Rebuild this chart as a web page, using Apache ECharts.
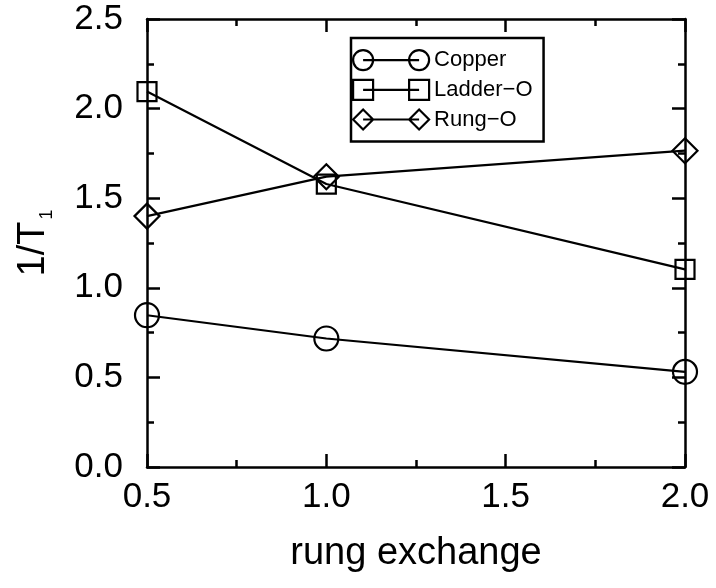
<!DOCTYPE html>
<html>
<head>
<meta charset="utf-8">
<script src="https://cdn.jsdelivr.net/npm/echarts@6/dist/echarts.min.js"></script>
<style>
html,body{margin:0;padding:0;background:#fff;}
#chart{width:716px;height:588px;}
</style>
</head>
<body>
<div id="chart"></div>
<script>
// ---- data ----
const rungExchange = [0.5, 1.0, 2.0];
const copper  = [0.847, 0.717, 0.531];
const ladderO = [2.095, 1.579, 1.103];
const rungO   = [1.400, 1.620, 1.765];
const seriesNames = ['Copper', 'Ladder\u2212O', 'Rung\u2212O'];
const xTicks = [0.5, 1.0, 1.5, 2.0];
const yTicks = [0.0, 0.5, 1.0, 1.5, 2.0, 2.5];

const FONT = "'Liberation Sans', Arial, Helvetica, sans-serif";
const BLACK = '#000';
const AXW = 2.5;
const LW = 2.2;

const pairs = (xs, ys) => xs.map((x, i) => [x, ys[i]]);

const iconCircle  = 'path://M0,10 A10,10 0 1,1 20,10 A10,10 0 1,1 0,10 Z M10,10 L66,10 M56,10 A10,10 0 1,1 76,10 A10,10 0 1,1 56,10 Z';
const iconSquare  = 'path://M0,0 L20,0 L20,20 L0,20 Z M10,10 L66,10 M56,0 L76,0 L76,20 L56,20 Z';
const iconDiamond = 'path://M0,10 L10,0 L20,10 L10,20 Z M10,10 L66,10 M56,10 L66,0 L76,10 L66,20 Z';

function xAxisCfg(pos, labels) {
  return {
    type: 'value', position: pos,
    min: xTicks[0], max: xTicks[xTicks.length - 1], interval: 0.5,
    axisLine: { show: true, onZero: false, lineStyle: { color: BLACK, width: AXW } },
    axisTick: { show: true, inside: true, length: 13, lineStyle: { color: BLACK, width: AXW } },
    minorTick: { show: true, splitNumber: 2, length: 7, lineStyle: { color: BLACK, width: AXW } },
    splitLine: { show: false },
    axisLabel: {
      show: labels, margin: 13, color: BLACK, fontSize: 35, fontFamily: FONT,
      formatter: v => v.toFixed(1)
    },
    name: labels ? 'rung exchange' : '',
    nameLocation: 'middle', nameGap: 68,
    nameTextStyle: { color: BLACK, fontSize: 38, fontFamily: FONT }
  };
}
function yAxisCfg(pos, labels) {
  return {
    type: 'value', position: pos,
    min: yTicks[0], max: yTicks[yTicks.length - 1], interval: 0.5,
    axisLine: { show: true, onZero: false, lineStyle: { color: BLACK, width: AXW } },
    axisTick: { show: true, inside: true, length: 13, lineStyle: { color: BLACK, width: AXW } },
    minorTick: { show: true, splitNumber: 2, length: 7, lineStyle: { color: BLACK, width: AXW } },
    splitLine: { show: false },
    axisLabel: {
      show: labels, margin: 24, color: BLACK, fontSize: 35, fontFamily: FONT,
      formatter: v => v.toFixed(1)
    },
    name: labels ? '{a|1/T}{b|1}' : '',
    nameLocation: 'middle', nameGap: 91, nameRotate: 90,
    nameTextStyle: {
      color: BLACK, fontFamily: FONT,
      rich: {
        a: { fontSize: 38, fontFamily: FONT, color: BLACK, lineHeight: 44 },
        b: { fontSize: 18, fontFamily: FONT, color: BLACK, verticalAlign: 'bottom', lineHeight: 8, padding: [0, 0, 0, 2] }
      }
    }
  };
}

function lineSeries(name, ys, symbol, size) {
  return {
    name: name, type: 'line', xAxisIndex: 0, yAxisIndex: 0,
    data: pairs(rungExchange, ys),
    symbol: symbol, symbolSize: size, showAllSymbol: true,
    lineStyle: { color: BLACK, width: LW },
    itemStyle: { color: 'rgba(0,0,0,0)', borderColor: BLACK, borderWidth: LW },
    emphasis: { disabled: true },
    animation: false, z: 3
  };
}

const chart = echarts.init(document.getElementById('chart'), null, { renderer: 'canvas' });
chart.setOption({
  backgroundColor: '#fff',
  animation: false,
  grid: { left: 147, top: 19, right: 31, bottom: 121, containLabel: false },
  xAxis: [xAxisCfg('bottom', true), xAxisCfg('top', false)],
  yAxis: [yAxisCfg('left', true), yAxisCfg('right', false)],
  legend: {
    orient: 'vertical', left: 351, top: 38,
    padding: [11, 11, 11, 1],
    borderColor: BLACK, borderWidth: 2.5,
    itemWidth: 76, itemHeight: 20, itemGap: 7.5, itemTextGap: 3,
    selectedMode: false,
    textStyle: { color: BLACK, fontSize: 22, fontFamily: FONT },
    itemStyle: { color: 'rgba(0,0,0,0)', borderColor: BLACK, borderWidth: LW },
    data: [
      { name: seriesNames[0], icon: iconCircle },
      { name: seriesNames[1], icon: iconSquare },
      { name: seriesNames[2], icon: iconDiamond }
    ]
  },
  series: [
    lineSeries(seriesNames[0], copper, 'circle', 24),
    lineSeries(seriesNames[1], ladderO, 'rect', 19),
    lineSeries(seriesNames[2], rungO, 'diamond', 25)
  ]
});
</script>
</body>
</html>
